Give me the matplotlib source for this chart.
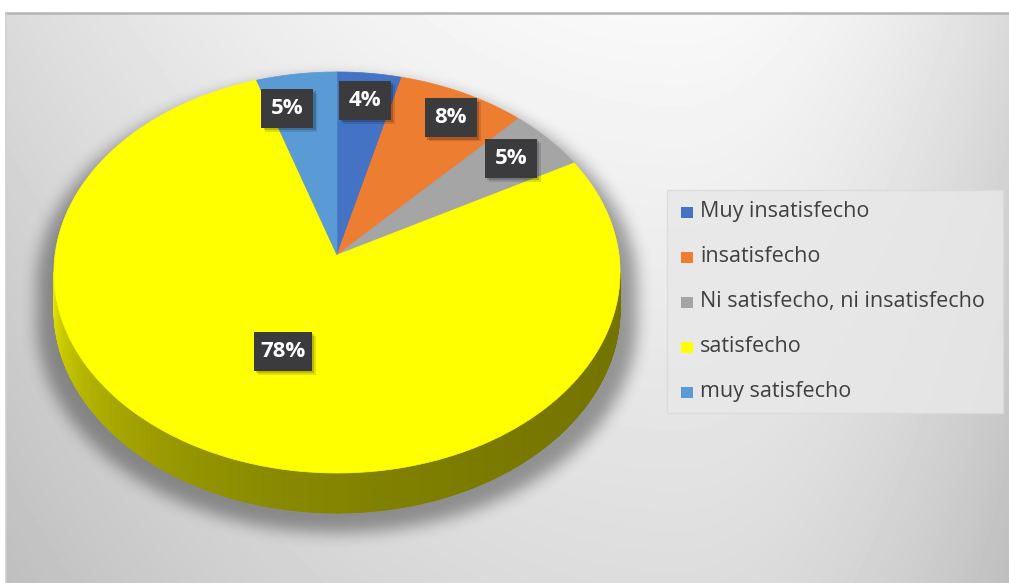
import numpy as np
import matplotlib.pyplot as plt
from matplotlib.patches import Polygon, Rectangle
from matplotlib.collections import PolyCollection
from matplotlib.path import Path
from matplotlib.colors import to_rgb

plt.rcParams['font.family'] = ['Open Sans', 'DejaVu Sans']

# --- survey results ---
categories = ['Muy insatisfecho', 'insatisfecho', 'Ni satisfecho, ni insatisfecho',
              'satisfecho', 'muy satisfecho']
shares = [4, 8, 5, 78, 5]
labels = ['4%', '8%', '5%', '78%', '5%']
colors = ['#4472C4', '#ED7D31', '#A5A5A5', '#FFFF00', '#5B9BD5']

# canvas in pixels, y grows downward
W, H = 1009, 583
cx, cy = 337, 255          # pie apex
rx, ry = 282, 199          # disk radii on screen
depth = 11.47              # camera distance (perspective strength)
thick = 40                 # side height at the front

# label placement: (radius fraction, angle nudge in degrees)
label_pos = [(0.84, 0.0), (0.85, 1.5), (0.82, -0.5), (0.50, 0.0), (0.81, -4.5)]


def project(theta, r=1.0):
    """theta in degrees, clockwise from 12 o'clock."""
    t = np.radians(theta)
    u = r * np.sin(t)
    w = -r * np.cos(t)
    s = depth / (depth - w)
    return cx + rx * u * s, cy + ry * w * s, s


def side_h(s):
    return thick * s / (depth / (depth - 1))


def box_blur(a, r, passes=3):
    k = 2 * r + 1
    for _ in range(passes):
        for ax_ in (0, 1):
            pad = [(0, 0), (0, 0)]
            pad[ax_] = (r + 1, r)
            c = np.cumsum(np.pad(a, pad, mode='edge'), axis=ax_)
            if ax_ == 0:
                a = (c[k:] - c[:-k]) / k
            else:
                a = (c[:, k:] - c[:, :-k]) / k
    return a


fig = plt.figure(figsize=(W / 100, H / 100), dpi=100)
ax = fig.add_axes([0, 0, 1, 1])
ax.set_xlim(0, W)
ax.set_ylim(H, 0)
ax.axis('off')

# --- chart area background gradient ---
x0, y0 = 6, 13
gx, gy = np.meshgrid(np.arange(x0, W) + 0.5, np.arange(y0, H) + 0.5)
dx = np.where(gx < 680, (gx - 680) / 680, (gx - 680) / 330)
bg = 0.975 - 0.12 * dx ** 2 - 0.11 * (gy - y0) / (H - y0)
ax.imshow(bg, cmap='gray', vmin=0, vmax=1, extent=(x0, W, H, y0),
          interpolation='bilinear', zorder=0, aspect='auto')
ax.plot([x0, W], [y0, y0], color='#b4b4b4', lw=1.8, zorder=1)
ax.plot([x0, x0], [H, y0], color='#cfcfcf', lw=1.2, zorder=1)

# --- angles and outline ---
total = sum(shares)
edges = np.concatenate([[0], np.cumsum(shares) / total * 360])

th = np.linspace(0, 360, 2881)
px, py, ps = project(th)
th_r = th[np.argmax(px)]
th_l = th[np.argmin(px)]

front = np.linspace(th_r, th_l, 400)
fx, fy, fs = project(front)
fb = fy + side_h(fs)
back = np.concatenate([np.linspace(th_l, 360, 200), np.linspace(0, th_r, 200)])
bx, by, _ = project(back)
outline = np.column_stack([np.concatenate([bx, fx]), np.concatenate([by, fb])])

# --- soft drop shadow under the pie ---
sh = outline.copy()
sh[:, 0] = cx + (sh[:, 0] - cx) * 1.06
sh[:, 1] = sh[:, 1] + 12 + (sh[:, 1] - cy) * 0.03
qx, qy = np.meshgrid(np.arange(W) + 0.5, np.arange(H) + 0.5)
mask = Path(sh).contains_points(np.column_stack([qx.ravel(), qy.ravel()]))
mask = box_blur(mask.reshape(H, W).astype(float), 7)
shadow = np.zeros((H, W, 4))
shadow[..., 3] = mask * 0.36
ax.imshow(shadow, extent=(0, W, H, 0), zorder=2, aspect='auto')

# --- pie side wall ---
strips, strip_cols = [], []
for a, b in zip(front[:-1], front[1:]):
    mid = (a + b) / 2
    k = np.searchsorted(edges, mid) - 1
    t = (th_l - mid) / (th_l - th_r)
    shade = 0.43 + 0.47 * np.exp(-t / 0.3)
    xa, ya, sa = project(a)
    xb, yb, sb = project(b)
    strips.append([(xa, ya), (xb, yb), (xb, yb + side_h(sb)), (xa, ya + side_h(sa))])
    strip_cols.append(tuple(np.array(to_rgb(colors[k])) * shade))
ax.add_collection(PolyCollection(strips, facecolors=strip_cols, edgecolors=strip_cols,
                                 linewidths=0.6, zorder=3))

# --- top face slices ---
for k in range(len(shares)):
    arc = np.linspace(edges[k], edges[k + 1], 200)
    ax_, ay_, _ = project(arc)
    pts = np.column_stack([np.concatenate([[cx], ax_]), np.concatenate([[cy], ay_])])
    ax.add_patch(Polygon(pts, closed=True, fc=colors[k], ec=colors[k], lw=0.5, zorder=4))

# --- data labels ---
for k, txt in enumerate(labels):
    mid = (edges[k] + edges[k + 1]) / 2
    r, nudge = label_pos[k]
    lx, ly, _ = project(mid + nudge, r)
    bw, bh = 40 + 6 * len(txt), 39
    for off, al in ((4, 0.12), (2.5, 0.18)):
        ax.add_patch(Rectangle((lx - bw / 2 + off, ly - bh / 2 + off), bw, bh,
                               fc='black', ec='none', alpha=al, zorder=5))
    ax.add_patch(Rectangle((lx - bw / 2, ly - bh / 2), bw, bh, fc='#3b3b3d', ec='none', zorder=6))
    ax.text(lx, ly, txt, color='white', fontsize=16, fontweight='bold',
            ha='center', va='center', zorder=7)

# --- legend ---
ax.add_patch(Rectangle((667, 190), 336, 223, fc='#e8e8e8', ec='#dadada', lw=1,
                       alpha=0.85, zorder=3))
for k, name in enumerate(categories):
    ly = 212 + 45 * k
    ax.add_patch(Rectangle((681, ly - 5.5), 12, 11, fc=colors[k], ec='none', zorder=4))
    ax.text(700, ly, name, color='#404040', fontsize=15.5, ha='left', va='center', zorder=4)

fig.savefig('out.png', dpi=100)
